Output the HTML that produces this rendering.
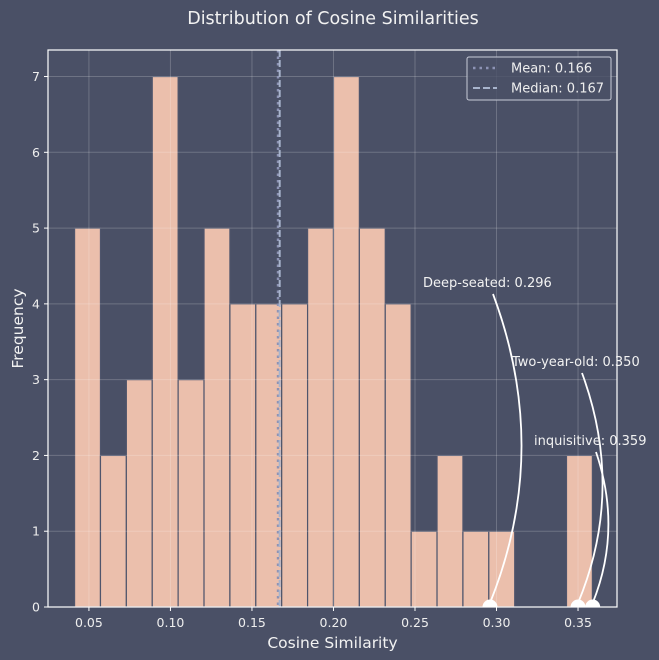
<!DOCTYPE html>
<html><head><meta charset="utf-8"><style>
body{margin:0;background:#4a5066;}
svg{display:block;font-family:"DejaVu Sans","Liberation Sans",sans-serif;}
</style></head><body>
<svg id="chart" width="659" height="660" viewBox="0 0 659 660">
<defs><clipPath id="plotclip"><rect x="48" y="50" width="569" height="557"/></clipPath></defs>
<rect x="0" y="0" width="659" height="660" fill="#4a5066"/>
<text x="333" y="24" text-anchor="middle" font-size="17.5" fill="#f2f2f2">Distribution of Cosine Similarities</text>
<g id="bars"></g><g id="grid"></g><g id="lines"></g><g id="ann" clip-path="url(#plotclip)"></g><g id="ann2"></g><g id="axes"></g>
</svg>
<script>
const binStart = 0.0412;
const binWidth = 0.01588;
const counts = [5,2,3,7,3,5,4,4,4,5,7,5,4,1,2,1,1,0,0,2];
const xTicks = [0.05,0.10,0.15,0.20,0.25,0.30,0.35];
const yTicks = [0,1,2,3,4,5,6,7];
const meanVal = 0.166, medianVal = 0.167;
const annWords = ["Deep-seated","Two-year-old","inquisitive"];
const annValues = [0.296,0.350,0.359];

const L=48,R=617,T=50,B=607, xmin=0.0249,xmax=0.3739,ymax=7.35;
const X=v=>L+(v-xmin)/(xmax-xmin)*(R-L);
const Y=v=>B-v/ymax*(B-T);
const NS="http://www.w3.org/2000/svg";
function mk(tag,attrs,parent,text){const e=document.createElementNS(NS,tag);for(const k in attrs)e.setAttribute(k,attrs[k]);if(text!==undefined)e.textContent=text;document.getElementById(parent).appendChild(e);return e;}

counts.forEach((c,i)=>{ if(!c) return;
  const x0=X(binStart+i*binWidth), x1=X(binStart+(i+1)*binWidth);
  const r=mk('rect',{x:x0,y:Y(c),width:x1-x0,height:B-Y(c),fill:'#ebbfac',stroke:'#4f556c','stroke-width':1.2},'bars');
  
  
});
xTicks.forEach(t=>{
  const g=mk('line',{x1:X(t),x2:X(t),y1:T,y2:B,stroke:'#ffffff','stroke-opacity':0.2,'stroke-width':1},'grid');
  
  
  mk('line',{x1:X(t),x2:X(t),y1:B,y2:B+4,stroke:'#ffffff'},'axes');
  const tx=mk('text',{x:X(t),y:B+20,'text-anchor':'middle','font-size':12.5,fill:'#eeeeee'},'axes',t.toFixed(2));
  
  
});
yTicks.forEach(t=>{
  if(t>0){const g=mk('line',{x1:L,x2:R,y1:Y(t),y2:Y(t),stroke:'#ffffff','stroke-opacity':0.2,'stroke-width':1},'grid');
  
  }
  mk('line',{x1:L-4,x2:L,y1:Y(t),y2:Y(t),stroke:'#ffffff'},'axes');
  const tx=mk('text',{x:L-8,y:Y(t)+4.5,'text-anchor':'end','font-size':12.5,fill:'#eeeeee'},'axes',t);
  
  
});
const ml=mk('line',{x1:X(meanVal),x2:X(meanVal),y1:T,y2:B,stroke:'#8d93b5','stroke-width':2.5,'stroke-dasharray':'2.5,4'},'lines');


const mdl=mk('line',{x1:X(medianVal),x2:X(medianVal),y1:T,y2:B,stroke:'#a8b4cc','stroke-width':2,'stroke-dasharray':'7,3'},'lines');



const textPos=[[423,287],[512,366],[534,445]];
const bows=[60,45,28];
annWords.forEach((w,i)=>{
  const v=annValues[i], px=X(v), py=B;
  const t=mk('text',{x:textPos[i][0],y:textPos[i][1],'font-size':13,fill:'#f2f2f2'},'ann2',w+': '+v.toFixed(3));
  
  
  const sx=textPos[i][0]+ [70,70,62][i], sy=textPos[i][1]+7;
  const cx=(sx+px)/2+bows[i], cy=(sy+py)/2;
  const p=mk('path',{d:`M${sx},${sy} Q${cx},${cy} ${px},${py-4}`,fill:'none',stroke:'#ffffff','stroke-width':1.8},'ann');
  
  
  const d=mk('circle',{cx:px,cy:py,r:7.5,fill:'#ffffff'},'ann');
  
  
});
const fr=mk('rect',{x:L,y:T,width:R-L,height:B-T,fill:'none',stroke:'#ffffff','stroke-width':1.2},'axes');


const xl=mk('text',{x:(L+R)/2,y:648,'text-anchor':'middle','font-size':15.5,fill:'#f2f2f2'},'axes','Cosine Similarity');


const yl=mk('text',{x:0,y:0,transform:`translate(23,${(T+B)/2}) rotate(-90)`,'text-anchor':'middle','font-size':15.5,fill:'#f2f2f2'},'axes','Frequency');


const lg=mk('g',{},'axes');


mk('rect',{x:467,y:57,width:144,height:43,rx:2,fill:'#4a5066','fill-opacity':0.8,stroke:'#c8ccd8','stroke-width':1},'axes');
mk('line',{x1:473,x2:497,y1:68,y2:68,stroke:'#8d93b5','stroke-width':2.5,'stroke-dasharray':'2.5,4'},'axes');
const l1=mk('text',{x:511,y:72.5,'font-size':13,fill:'#eeeeee'},'axes','Mean: 0.166');


mk('line',{x1:473,x2:497,y1:88,y2:88,stroke:'#a8b4cc','stroke-width':2,'stroke-dasharray':'7,3'},'axes');
const l2=mk('text',{x:511,y:92.5,'font-size':13,fill:'#eeeeee'},'axes','Median: 0.167');


</script>
</body></html>
